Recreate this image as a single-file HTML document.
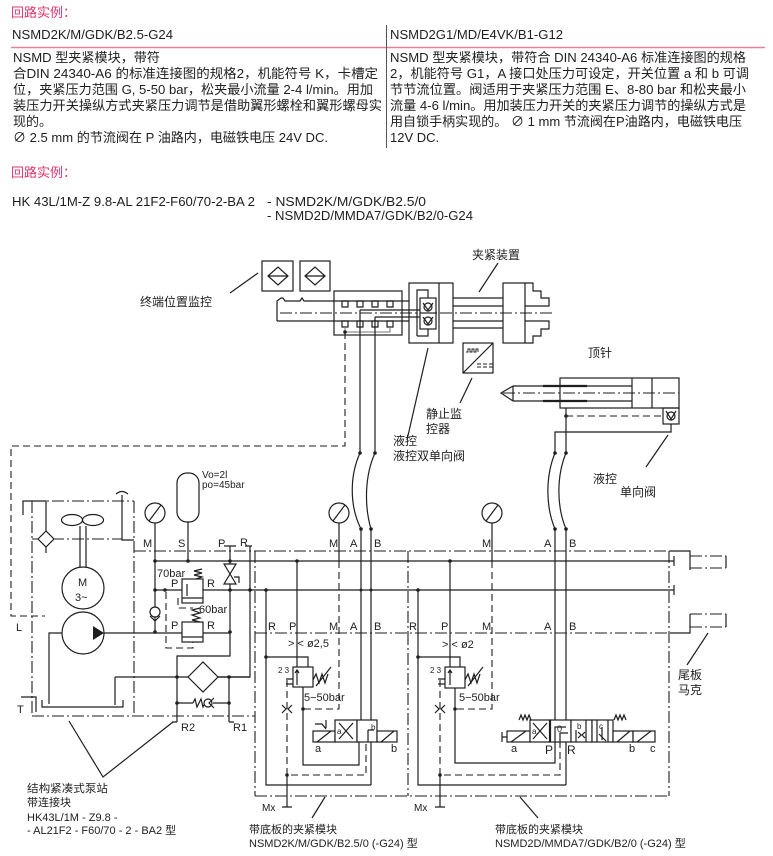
<!DOCTYPE html>
<html><head><meta charset="utf-8">
<style>
html,body{margin:0;padding:0;background:#fff;}
svg{display:block;}
text{font-family:"Liberation Sans","Noto Sans CJK SC",sans-serif;fill:#1e1e1e;}
.t{font-size:13px;}
.d{font-size:11px;}
.c{font-size:12px;}
.s{font-size:8px;}
.ln{stroke:#1e1e1e;stroke-width:1.2;fill:none;}
.wf{stroke:#1e1e1e;stroke-width:1.2;fill:#fff;}
.dd{stroke:#1e1e1e;stroke-width:1.1;fill:none;stroke-dasharray:7 4;}
.dc{stroke:#1e1e1e;stroke-width:1.1;fill:none;stroke-dasharray:12 3 2 3;}
.th{stroke:#1e1e1e;stroke-width:2.2;fill:none;}
.dt{fill:#1e1e1e;stroke:none;}
</style></head><body>
<svg width="773" height="856" viewBox="0 0 773 856" xmlns="http://www.w3.org/2000/svg">
<!-- ===== top text ===== -->
<text x="11" y="17" class="t" style="fill:#e0346b">回路实例：</text>
<text x="12" y="39" class="t" textLength="161" lengthAdjust="spacingAndGlyphs">NSMD2K/M/GDK/B2.5-G24</text>
<text x="390" y="39" class="t" textLength="173" lengthAdjust="spacingAndGlyphs">NSMD2G1/MD/E4VK/B1-G12</text>
<line x1="11" y1="47.5" x2="765" y2="47.5" stroke="#e8809a" stroke-width="1.6"/>
<line x1="386.5" y1="25" x2="386.5" y2="148" stroke="#555" stroke-width="1"/>

<text x="13" y="62" class="t" textLength="147" lengthAdjust="spacingAndGlyphs">NSMD 型夹紧模块，带符</text>
<text x="13" y="78" class="t" textLength="365" lengthAdjust="spacingAndGlyphs">合DIN 24340-A6 的标准连接图的规格2，机能符号 K，卡槽定</text>
<text x="13" y="94" class="t" textLength="360" lengthAdjust="spacingAndGlyphs">位，夹紧压力范围 G, 5-50 bar，松夹最小流量 2-4 l/min。用加</text>
<text x="13" y="110" class="t" textLength="369" lengthAdjust="spacingAndGlyphs">装压力开关操纵方式夹紧压力调节是借助翼形螺栓和翼形螺母实</text>
<text x="13" y="126" class="t">现的。</text>
<text x="13" y="142" class="t" textLength="315" lengthAdjust="spacingAndGlyphs">∅ 2.5 mm 的节流阀在 P 油路内，电磁铁电压 24V DC.</text>

<text x="390" y="62" class="t" textLength="356" lengthAdjust="spacingAndGlyphs">NSMD 型夹紧模块，带符合 DIN 24340-A6 标准连接图的规格</text>
<text x="390" y="78" class="t" textLength="359" lengthAdjust="spacingAndGlyphs">2，机能符号 G1，A 接口处压力可设定，开关位置 a 和 b 可调</text>
<text x="390" y="94" class="t" textLength="356" lengthAdjust="spacingAndGlyphs">节节流位置。阀适用于夹紧压力范围 E、8-80 bar 和松夹最小</text>
<text x="390" y="110" class="t" textLength="356" lengthAdjust="spacingAndGlyphs">流量 4-6 l/min。用加装压力开关的夹紧压力调节的操纵方式是</text>
<text x="390" y="126" class="t" textLength="352" lengthAdjust="spacingAndGlyphs">用自锁手柄实现的。 ∅ 1 mm 节流阀在P油路内，电磁铁电压</text>
<text x="390" y="142" class="t">12V DC.</text>

<text x="11" y="177" class="t" style="fill:#e0346b">回路实例：</text>
<text x="12" y="206" class="t" textLength="243" lengthAdjust="spacingAndGlyphs">HK 43L/1M-Z 9.8-AL 21F2-F60/70-2-BA 2</text>
<text x="267" y="206" class="t" textLength="159" lengthAdjust="spacingAndGlyphs">- NSMD2K/M/GDK/B2.5/0</text>
<text x="267" y="220" class="t" textLength="206" lengthAdjust="spacingAndGlyphs">- NSMD2D/MMDA7/GDK/B2/0-G24</text>

<!-- ===== mechanical top ===== -->
<rect x="262" y="261" width="31" height="30" class="ln"/>
<path d="M268 276 L278 267 L288 276 L278 285 Z M268 276 H288" class="ln"/>
<rect x="300" y="261" width="30" height="30" class="ln"/>
<path d="M305 276 L315 267 L325 276 L315 285 Z M305 276 H325" class="ln"/>
<path d="M230 293 L258 273" class="ln"/>
<text x="140" y="306" class="c">终端位置监控</text>

<path d="M277 321 V301 L281 298 H283 L285 301 H300 L302 298 L304 301 H409 M277 321 H409" class="ln"/>
<rect x="334" y="291" width="68" height="44" class="ln"/>
<path d="M342 301 h6 v6 h-6 z M357 301 h6 v6 h-6 z M372 301 h6 v6 h-6 z M387 301 h6 v6 h-6 z" class="ln"/>
<path d="M342 321 h6 v6 h-6 z M357 321 h6 v6 h-6 z M372 321 h6 v6 h-6 z M387 321 h6 v6 h-6 z" class="ln"/>
<path d="M345 327 V332 H390 V327" stroke="#777" stroke-width="1" fill="none"/>
<path d="M360 310 H420 M360 310 V453 M375 317 H420 M375 317 V453" class="ln"/>
<line x1="280" y1="313" x2="552" y2="313" class="dc"/>
<circle cx="345" cy="332" r="1.8" class="dt"/>

<rect x="409" y="283" width="44" height="60" class="ln"/>
<path d="M439 283 V343 M417 336 V290 H428 V298 M428 329 V336 H417" class="ln"/>
<rect x="420" y="298" width="16" height="31" class="wf"/>
<path d="M420 313 H436" class="ln"/>
<circle cx="428" cy="307" r="4" class="ln"/>
<circle cx="428" cy="321" r="4" class="ln"/>
<path d="M423 303 L428 310 L433 303 M423 317 L428 324 L433 317" class="ln" stroke-width="0.9"/>
<path d="M453 298 H503 M453 306 H503 M453 321 H503 M453 328 H503" class="ln"/>
<rect x="503" y="283" width="22" height="60" class="ln"/>
<path d="M525 283 H533 V291 H541 V298 H549 V306 H525 M525 343 H533 V336 H541 V329 H549 V321 H525" class="ln"/>
<path d="M479 292 L498 263" class="ln"/>
<text x="472" y="259" class="c">夹紧装置</text>

<rect x="463" y="343" width="30" height="30" class="ln"/>
<path d="M463 373 L493 343" class="ln"/>
<path d="M466 352 h2 v-3 h2 v3 h2 v-3 h2 v3 h2 v-3 h2 v3" stroke="#1e1e1e" stroke-width="0.9" fill="none"/>
<path d="M477 364 h4 m2 0 h4 m2 0 h4 M477 367 h4 m2 0 h4 m2 0 h4" stroke="#1e1e1e" stroke-width="0.9" fill="none"/>
<path d="M472 378 L460 403" class="ln"/>
<text x="426" y="418" class="c">静止监</text>
<text x="426" y="433" class="c">控器</text>
<path d="M428 348 L407 440" class="ln"/>
<text x="393" y="445" class="c">液控</text>
<text x="393" y="460" class="c">液控双单向阀</text>

<!-- tailstock -->
<text x="588" y="357" class="c">顶针</text>
<rect x="560" y="378" width="119" height="30" class="ln"/>
<path d="M632 378 V408 M652 378 V408" class="ln"/>
<path d="M513 386 H632 M513 401 H632 M513 386 V401 M513 386 L501 393 L513 401" class="ln"/>
<path d="M543 386 H587 M543 401 H587" class="th"/>
<line x1="503" y1="393" x2="679" y2="393" class="dc"/>
<rect x="663" y="408" width="16" height="16" class="ln"/>
<circle cx="671" cy="416" r="4" class="ln"/>
<path d="M666 411 L671 419 L676 411" class="ln" stroke-width="0.9"/>
<path d="M566 416 H663" class="dd"/>
<path d="M566 408 V453 M555 453 V432 H671 V424" class="ln"/>
<circle cx="566" cy="416" r="1.8" class="dt"/>
<path d="M668 435 L646 467" class="ln"/>
<text x="593" y="483" class="c">液控</text>
<text x="620" y="496" class="c">单向阀</text>

<!-- hoses -->
<path d="M360 453 C350 475 349 505 361 529 M375 453 C365 475 364 505 371 529" class="ln"/>
<path d="M555 453 C546 475 545 505 555 529 M566 453 C557 475 556 505 566 529" class="ln"/>
<g class="dt"><circle cx="360" cy="453" r="1.8"/><circle cx="375" cy="453" r="1.8"/><circle cx="361" cy="529" r="1.8"/><circle cx="371" cy="529" r="1.8"/><circle cx="555" cy="453" r="1.8"/><circle cx="566" cy="453" r="1.8"/><circle cx="555" cy="529" r="1.8"/><circle cx="566" cy="529" r="1.8"/></g>

<!-- dashed return from block -->
<polyline points="345,332 345,446 11,446 11,616 45,616" class="dd"/>

<!-- ===== power unit ===== -->
<path d="M32 501 V716 M32 501 H134 M134 501 V716 M32 716 H255 M32 539 H122" class="dc"/>
<path d="M23 515 V501 H46 V531 M46 547 V553" class="ln"/>
<path d="M38 539 L46 531 L54 539 L46 547 Z" class="wf"/>
<ellipse cx="72" cy="520" rx="10.5" ry="5.5" class="ln"/>
<ellipse cx="93" cy="520" rx="10.5" ry="5.5" class="ln"/>
<path d="M80 526 V567 M86 526 V567" class="ln"/>
<circle cx="83" cy="588" r="21" class="wf"/>
<text x="78" y="586" class="d">M</text>
<text x="75" y="601" class="d">3~</text>
<circle cx="83" cy="633" r="21" class="wf"/>
<path d="M93 626 L104 633 L93 640 Z" class="dt"/>
<path d="M62 633 H49 V704 M104 633 H230" class="ln"/>
<path d="M42 700 V707 H123 V700 M115 677 V705 M115 677 H188 M21 697 H36 V712" class="ln"/>
<text x="16" y="631" class="d">L</text>
<text x="17" y="713" class="d">T</text>
<!-- gauge pu -->
<circle cx="155" cy="513" r="10" class="ln"/>
<path d="M149 521 L161 505 M155 523 V632" class="ln"/>
<path d="M122 495 V540 H134 M116 494 Q122 489 128 494" class="ln"/>
<circle cx="155" cy="612" r="5" class="wf"/>
<path d="M150 616 L155 621 L160 616" class="ln" stroke-width="0.9"/>
<!-- accumulator -->
<rect x="177" y="473" width="22" height="49" rx="10" class="ln"/>
<path d="M188 522 V561" class="ln"/>
<text x="202" y="478" style="font-size:10px">Vo=2l</text>
<text x="202" y="488" style="font-size:10px">po=45bar</text>
<!-- top row labels -->
<text x="143" y="547" class="d">M</text>
<text x="178" y="547" class="d">S</text>
<text x="218" y="547" class="d">P</text>
<text x="240" y="546" class="d">R</text>
<path d="M224 546 H236 M230 546 V564 M245 546 H252 M250 546 V677 H218" class="ln"/>
<!-- main lines -->
<path d="M134 551 H670" class="dc"/>
<path d="M670 551 H690 V556" class="ln"/>
<path d="M155 561 H674 M674 556 V566 M155 590 H674 M674 585 V595" class="ln"/>
<!-- needle valve -->
<path d="M224 564 L236 564 L230 574 Z M224 584 L236 584 L230 574 Z" class="ln"/>
<path d="M234 577 H239 V583" class="ln" stroke-width="0.9"/>
<path d="M230 584 V656 H177 V722 M172 722 H177" class="ln"/>
<!-- relief valves -->
<path d="M178 598 V608 H193 M166 592 V648 H193 V642" class="dd"/>
<rect x="182" y="579" width="21" height="24" class="wf"/>
<path d="M182 598 H203 M187 596 V584" class="ln"/>
<path d="M196 579 l6 -2 l-8 -2 l8 -2 l-8 -2 l8 -2" class="ln" stroke-width="0.9"/>
<text x="157" y="577" class="d">70bar</text>
<text x="171" y="587" class="d">P</text>
<text x="207" y="587" class="d">R</text>
<rect x="182" y="622" width="21" height="20" class="wf"/>
<path d="M182 637 H203" class="ln"/>
<path d="M200 622 l-8 -2 l8 -2 l-8 -3 l8 -2 l-8 -3 l8 -2" class="ln" stroke-width="0.9"/>
<text x="199" y="613" class="d">60bar</text>
<text x="171" y="629" class="d">P</text>
<text x="207" y="629" class="d">R</text>
<!-- filter + check -->
<path d="M188 677 L203 662 L218 677 L203 692 Z" class="wf"/>
<path d="M218 677 H250 M229 677 V722 M229 722 H234 M177 703 H193 M193 703 l2 -4 l2 8 l2 -4 l2 -4 l2 8 l2 -4 M213 703 H229" class="ln"/>
<circle cx="208" cy="703" r="4" class="wf"/>
<path d="M214 698 L209 703 L214 708" class="ln" stroke-width="0.9"/>
<g class="dt"><circle cx="155" cy="561" r="1.8"/><circle cx="188" cy="561" r="1.8"/><circle cx="230" cy="561" r="1.8"/><circle cx="155" cy="590" r="1.8"/><circle cx="165" cy="590" r="1.8"/><circle cx="230" cy="590" r="1.8"/><circle cx="250" cy="590" r="1.8"/><circle cx="266" cy="590" r="1.8"/><circle cx="155" cy="632" r="1.8"/><circle cx="230" cy="632" r="1.8"/><circle cx="177" cy="677" r="1.8"/><circle cx="229" cy="677" r="1.8"/><circle cx="177" cy="703" r="1.8"/><circle cx="229" cy="703" r="1.8"/></g>
<text x="181" y="731" class="d">R2</text>
<text x="233" y="731" class="d">R1</text>
<path d="M69 721 L103 777 L173 722" class="ln"/>
<text x="27" y="792" class="d" textLength="81" lengthAdjust="spacingAndGlyphs">结构紧凑式泵站</text>
<text x="27" y="806" class="d">带连接块</text>
<text x="27" y="821" class="d">HK43L/1M - Z9.8 -</text>
<text x="27" y="834" class="d">- AL21F2 - F60/70 - 2 - BA2 型</text>

<!-- ===== module frames ===== -->
<path d="M255 551 V796 M255 796 H669 M408 551 V633 M669 551 V796 M255 633 H670" class="dc"/>
<path d="M408 633 V796" class="dc" stroke-width="2.2"/>
<!-- end plates -->
<path d="M670 633 H690 V614 M726 614 V627 M690 556 V570 M726 556 V568" class="ln"/>
<path d="M690 614 H726 M690 627 H726 M690 556 H726 M690 568 H726" class="dc"/>
<path d="M708 633 L687 665" class="ln"/>
<text x="678" y="679" class="c">尾板</text>
<text x="678" y="694" class="c">马克</text>

<!-- labels rows -->
<text x="329" y="547" class="d">M</text><text x="350" y="547" class="d">A</text><text x="374" y="547" class="d">B</text>
<text x="482" y="547" class="d">M</text><text x="544" y="547" class="d">A</text><text x="569" y="547" class="d">B</text>
<text x="268" y="630" class="d">R</text><text x="289" y="630" class="d">P</text><text x="329" y="630" class="d">M</text><text x="350" y="630" class="d">A</text><text x="374" y="630" class="d">B</text>
<text x="409" y="630" class="d">R</text><text x="441" y="630" class="d">P</text><text x="482" y="630" class="d">M</text><text x="544" y="630" class="d">A</text><text x="569" y="630" class="d">B</text>

<!-- gauges -->
<circle cx="339" cy="513" r="10" class="ln"/>
<path d="M333 521 L345 505 M339 523 V561" class="ln"/>
<circle cx="492" cy="513" r="10" class="ln"/>
<path d="M486 521 L498 505 M492 523 V561" class="ln"/>

<!-- ===== module 1 ===== -->
<path d="M361 529 V720 M371 529 V785 M266 590 V785 H371 M266 657 H308 V667 M297 561 V667 M303 687 V765 H359 V742" class="ln"/>
<path d="M339 561 V709 H303 M287 680 V775 H366 V742" class="dd"/>
<path d="M287 775 V807 M282 807 H292" class="ln"/>
<text x="262" y="811" style="font-size:10px">Mx</text>
<path d="M282 705 L286 709 L282 713 M292 705 L288 709 L292 713" class="ln" stroke-width="0.9"/>
<text x="288" y="647" class="d">&gt; &lt; ø2,5</text>
<rect x="293" y="667" width="20" height="20" class="wf"/>
<path d="M297 670 V685 M295 673 L297 670 L299 673" class="ln" stroke-width="0.9"/>
<path d="M313 680 l3 -6 l3 9 l3 -9 l3 9 l3 -9 M316 686 L331 667" class="ln" stroke-width="0.9"/>
<path d="M286 679 H293 M286 684 H293" class="ln" stroke-width="0.9"/>
<text x="278" y="673" class="s">2 3</text>
<text x="304" y="701" class="d">5−50bar</text>
<g class="dt"><circle cx="297" cy="561" r="1.8"/><circle cx="266" cy="657" r="1.8"/><circle cx="303" cy="709" r="1.8"/><circle cx="287" cy="775" r="1.8"/><circle cx="361" cy="590" r="1.5"/><circle cx="371" cy="590" r="1.5"/></g>
<!-- valve 1 -->
<rect x="313" y="731" width="22" height="11" class="wf"/>
<path d="M317 742 L331 731 M315 724 H322 L326 729 M326 720 V728" class="ln" stroke-width="0.9"/>
<rect x="335" y="720" width="22" height="22" class="wf"/>
<path d="M339 723 L353 739 M353 723 L339 739" class="ln"/>
<rect x="357" y="720" width="20" height="22" class="wf"/>
<path d="M368 730 V742 M368 730 H374" class="ln" stroke-width="0.9"/>
<rect x="377" y="731" width="20" height="11" class="wf"/>
<path d="M381 742 L394 731" class="ln"/>
<text x="337" y="734" class="s">a</text>
<text x="371" y="730" class="s">b</text>
<text x="315" y="752" class="d">a</text>
<text x="391" y="752" class="d">b</text>
<path d="M325 797 L312 818" class="ln"/>
<text x="249" y="833" class="d">带底板的夹紧模块</text>
<text x="249" y="847" class="d">NSMD2K/M/GDK/B2.5/0 (-G24) 型</text>

<!-- ===== module 2 ===== -->
<path d="M555 529 V720 M566 529 V785 M418 590 V785 H566 M418 657 H460 V667 M450 561 V667 M455 688 V763 H555 V742" class="ln"/>
<path d="M492 561 V709 H455 M440 680 V775 H560 V742" class="dd"/>
<path d="M440 775 V807 M435 807 H445" class="ln"/>
<text x="414" y="811" style="font-size:10px">Mx</text>
<path d="M435 705 L439 709 L435 713 M445 705 L441 709 L445 713" class="ln" stroke-width="0.9"/>
<text x="442" y="648" class="d">&gt; &lt; ø2</text>
<rect x="445" y="667" width="20" height="21" class="wf"/>
<path d="M450 670 V685 M448 673 L450 670 L452 673" class="ln" stroke-width="0.9"/>
<path d="M465 680 l3 -6 l3 9 l3 -9 l3 9 l3 -9 M468 686 L483 667" class="ln" stroke-width="0.9"/>
<path d="M438 679 H445 M438 684 H445" class="ln" stroke-width="0.9"/>
<text x="430" y="673" class="s">2 3</text>
<text x="459" y="701" class="d">5−50bar</text>
<g class="dt"><circle cx="450" cy="561" r="1.8"/><circle cx="418" cy="590" r="1.8"/><circle cx="418" cy="657" r="1.8"/><circle cx="455" cy="709" r="1.8"/><circle cx="440" cy="775" r="1.8"/></g>
<!-- valve 2 -->
<path d="M502 732 V742 M502 737 H507" class="ln"/>
<rect x="507" y="731" width="23" height="11" class="wf"/>
<path d="M511 742 L526 731" class="ln"/>
<path d="M519 720 l2 -5 l2 5 l2 -5 l2 5 l2 -5 l2 5 M614 720 l2 -5 l2 5 l2 -5 l2 5 l2 -5 l2 5" class="ln" stroke-width="0.9"/>
<rect x="530" y="720" width="20" height="22" class="wf"/>
<path d="M533 723 L547 739 M547 723 L533 739" class="ln"/>
<rect x="550" y="720" width="21" height="22" class="wf"/>
<path d="M550 720 V742" class="th"/>
<path d="M555 742 V727 H566 M560 742 V733 H568" class="ln" stroke-width="0.9"/>
<text x="557" y="732" class="s" style="font-size:9px">0</text>
<rect x="571" y="720" width="21" height="22" class="wf"/>
<path d="M576 730 V742 M586 720 V742 M578 732 L581 735 L578 738 M585 732 L582 735 L585 738" class="ln" stroke-width="0.9"/>
<rect x="592" y="720" width="21" height="22" class="wf"/>
<path d="M597 720 V742 M608 720 V742 M599 734 L606 741 M602 727 V740" class="ln" stroke-width="0.9"/>
<rect x="613" y="731" width="20" height="11" class="wf"/>
<path d="M617 742 L630 731" class="ln"/>
<rect x="633" y="731" width="22" height="11" class="wf"/>
<path d="M637 742 L651 731" class="ln"/>
<text x="532" y="734" class="s">a</text>
<text x="577" y="729" class="s">b</text>
<text x="599" y="729" class="s">c</text>
<text x="511" y="752" class="d">a</text>
<text x="545" y="754" class="c">P</text>
<text x="567" y="754" class="c">R</text>
<text x="629" y="752" class="d">b</text>
<text x="650" y="752" class="d">c</text>
<path d="M520 797 L538 818" class="ln"/>
<text x="495" y="833" class="d">带底板的夹紧模块</text>
<text x="495" y="847" class="d">NSMD2D/MMDA7/GDK/B2/0 (-G24) 型</text>
</svg>
</body></html>
